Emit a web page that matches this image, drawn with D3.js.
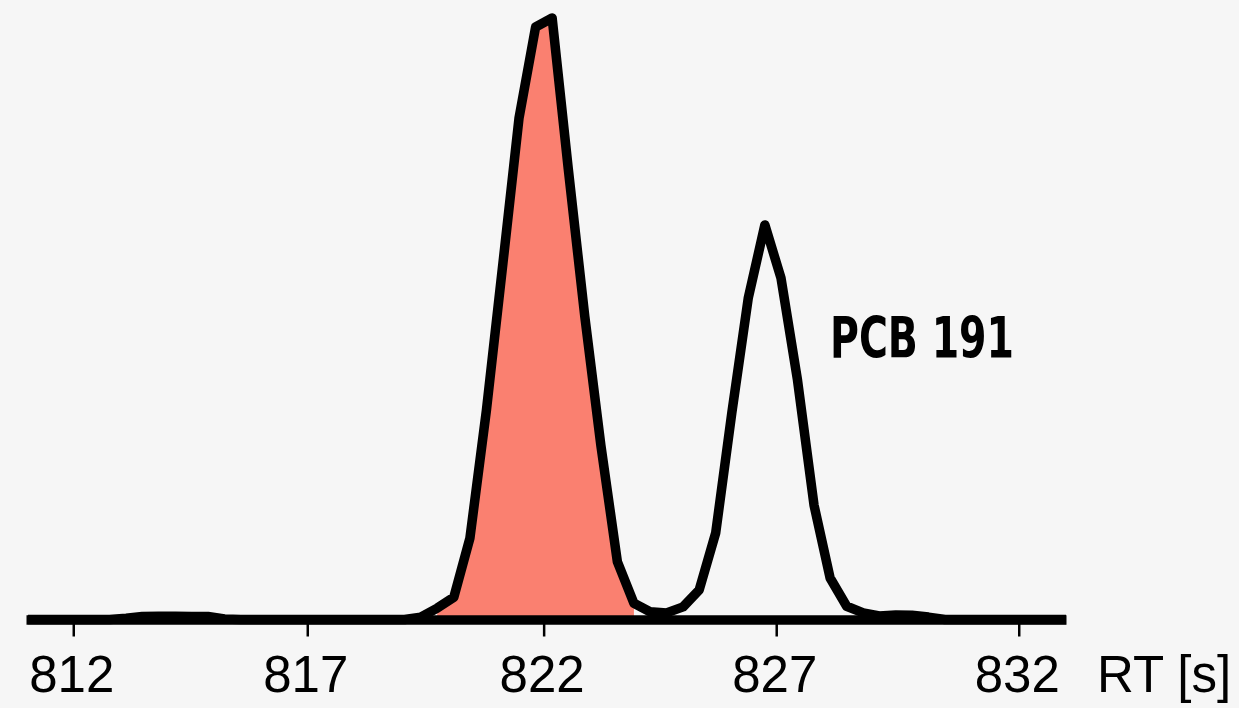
<!DOCTYPE html>
<html>
<head>
<meta charset="utf-8">
<script src="https://d3js.org/d3.v7.min.js"></script>
<style>
  body { margin: 0; background: #f6f6f6; }
  svg { display: block; }
</style>
</head>
<body>
<svg width="1239" height="708"></svg>
<script>

// retention time (s) of each scan
var rt = [811.04, 811.39, 811.73, 812.08, 812.43, 812.77, 813.12, 813.46, 813.81, 814.16,
          814.50, 814.85, 815.20, 815.54, 815.89, 816.24, 816.58, 816.93, 817.27, 817.62,
          817.97, 818.31, 818.66, 819.01, 819.35, 819.70, 820.05, 820.39, 820.74, 821.09,
          821.43, 821.78, 822.13, 822.47, 822.82, 823.16, 823.51, 823.86, 824.20, 824.55,
          824.90, 825.24, 825.59, 825.93, 826.28, 826.63, 826.97, 827.32, 827.67, 828.01,
          828.36, 828.71, 829.05, 829.40, 829.74, 830.09, 830.44, 830.78, 831.13, 831.48,
          831.82, 832.17, 832.52, 832.86, 833.00];

// relative intensity (%)
var intensity = [0, 0, 0, 0, 0, 0, 0.2, 0.5, 0.55, 0.55,
                 0.5, 0.5, 0.1, 0, 0, 0, 0, 0, 0, 0,
                 0, 0, 0, 0, 0.4, 1.9, 3.7, 13.5, 34.8, 59.3,
                 83.4, 98.5, 100, 75.0, 50.4, 29.0, 9.6, 2.7, 1.3, 1.1,
                 2.1, 4.9, 14.4, 34.3, 53.5, 65.6, 56.8, 39.8, 19.0, 6.9,
                 2.2, 1.1, 0.6, 0.75, 0.7, 0.4, 0, 0, 0, 0,
                 0, 0, 0, 0, 0];

// integration window of the shaded peak
var fillStart = 819.70, fillEnd = 823.86;

// tick marks as they sit on the axis, and their labels
var tickValues = [812.0, 816.95, 821.95, 826.87, 832.0];
var tickLabels = ["812", "817", "822", "827", "832"];
var axisTitle = "RT [s]";
var peakLabel = "PCB 191";

var data = rt.map(function(d, i) { return {rt: d, v: intensity[i]}; });

var svg = d3.select("svg");

svg.append("rect")
    .attr("width", 1239)
    .attr("height", 708)
    .attr("fill", "#f6f6f6");

var x = d3.scaleLinear().domain([811, 833]).range([26, 1066]);
var y = d3.scaleLinear().domain([0, 100]).range([619.5, 18]);

var area = d3.area()
    .x(function(d) { return x(d.rt); })
    .y0(y(0))
    .y1(function(d) { return y(d.v); });

var line = d3.line()
    .x(function(d) { return x(d.rt); })
    .y(function(d) { return y(d.v); });

svg.append("path")
    .datum(data.filter(function(d) { return d.rt >= fillStart && d.rt <= fillEnd; }))
    .attr("d", area)
    .attr("fill", "#fa8070");

var axis = svg.append("g")
    .attr("transform", "translate(0," + y(0) + ")")
    .call(d3.axisBottom(x)
        .tickValues(tickValues)
        .tickSize(17)
        .tickSizeOuter(0)
        .tickFormat(function(d, i) { return tickLabels[i]; }));

axis.select(".domain")
    .attr("stroke", "#000")
    .attr("stroke-width", 9.5);

axis.selectAll(".tick line")
    .attr("stroke", "#000")
    .attr("stroke-width", 2.5);

axis.selectAll(".tick text")
    .attr("y", 72.5)
    .attr("dy", 0)
    .attr("dx", -2)
    .attr("fill", "#000")
    .style("font-family", "'Liberation Sans', Arial, Helvetica, sans-serif")
    .style("font-size", "51px");

svg.append("path")
    .datum(data)
    .attr("d", line)
    .attr("fill", "none")
    .attr("stroke", "#000")
    .attr("stroke-width", 9.5)
    .attr("stroke-linejoin", "round");

svg.append("text")
    .attr("x", 1097)
    .attr("y", 692)
    .style("font-family", "'Liberation Sans', Arial, Helvetica, sans-serif")
    .style("font-size", "51px")
    .text(axisTitle);

svg.append("text")
    .attr("x", 830)
    .attr("y", 358)
    .attr("textLength", 184)
    .attr("lengthAdjust", "spacingAndGlyphs")
    .style("font-family", "'Liberation Sans Narrow', 'DejaVu Sans Condensed', sans-serif")
    .style("font-stretch", "condensed")
    .style("font-weight", "bold")
    .style("font-size", "57px")
    .text(peakLabel);

</script>
</body>
</html>
